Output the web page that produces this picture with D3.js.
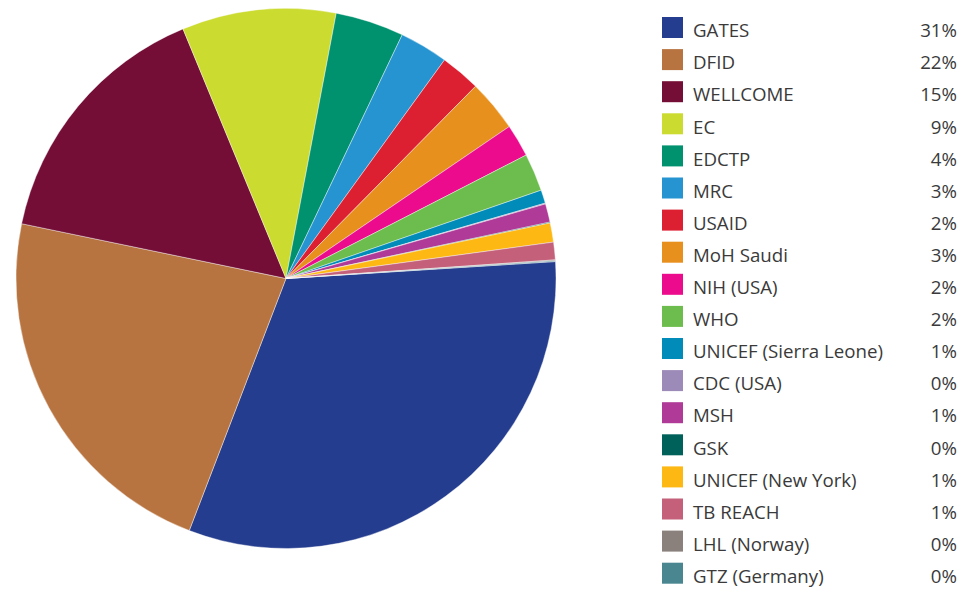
<!DOCTYPE html>
<html>
<head>
<meta charset="utf-8">
<script src="https://cdn.jsdelivr.net/npm/d3@7"></script>
<style>
  body { margin: 0; background: #fff; }
  svg text { font-family: "Open Sans", "Noto Sans", sans-serif; }
</style>
</head>
<body>
<div id="chart"></div>
<script>
var funders = ["GATES", "DFID", "WELLCOME", "EC", "EDCTP", "MRC", "USAID", "MoH Saudi",
  "NIH (USA)", "WHO", "UNICEF (Sierra Leone)", "CDC (USA)", "MSH", "GSK",
  "UNICEF (New York)", "TB REACH", "LHL (Norway)", "GTZ (Germany)"];
var values = [31.8, 22.4, 15.5, 9.2, 4.1, 2.9, 2.4, 3.1, 1.95, 2.25, 0.8, 0.05, 1.1, 0.05,
  1.15, 1.05, 0.05, 0.05];
var shareLabels = ["31%", "22%", "15%", "9%", "4%", "3%", "2%", "3%", "2%", "2%", "1%", "0%",
  "1%", "0%", "1%", "1%", "0%", "0%"];
var colors = ["#253d8e", "#b87440", "#740e36", "#cbdb2f", "#00926f", "#2594d1", "#dd1f32",
  "#e8901e", "#ec0b8c", "#6cbd4d", "#008bb8", "#9c8ab9", "#b03a97", "#00605a", "#fdb813",
  "#c4607a", "#8a817c", "#4a8690"];

var width = 963, height = 589;
var svg = d3.select("#chart").append("svg")
  .attr("width", width).attr("height", height);

var color = d3.scaleOrdinal().domain(funders).range(colors);

var rows = funders.map(function(f, i) {
  return {name: f, value: values[i], label: shareLabels[i]};
});

// pie starts just above 3 o'clock and runs clockwise
var start = 86.4 * Math.PI / 180;
var pie = d3.pie().sort(null).value(function(d) { return d.value; })
  .startAngle(start).endAngle(start + 2 * Math.PI);

var arc = d3.arc().innerRadius(0).outerRadius(270);

svg.append("g").attr("transform", "translate(286,278.5)")
  .selectAll("path").data(pie(rows))
  .enter().append("path")
  .attr("d", arc)
  .attr("fill", function(d) { return color(d.data.name); })
  .attr("stroke", "#fff")
  .attr("stroke-width", 0.4);

// legend
var y = d3.scaleBand().domain(funders).range([13, 13 + 32.1 * funders.length]);

var legend = svg.append("g").selectAll("g").data(rows)
  .enter().append("g")
  .attr("transform", function(d) { return "translate(0," + y(d.name) + ")"; });

legend.append("rect")
  .attr("x", 662).attr("y", 4)
  .attr("width", 21).attr("height", 21)
  .attr("fill", function(d) { return color(d.name); });

legend.append("text")
  .attr("x", 693).attr("y", 24.3)
  .attr("font-size", 18.7)
  .attr("fill", "#3a3a3a")
  .text(function(d) { return d.name; });

legend.append("text")
  .attr("x", 957).attr("y", 24.3)
  .attr("text-anchor", "end")
  .attr("font-size", 18.7)
  .attr("fill", "#3a3a3a")
  .text(function(d) { return d.label; });
</script>
</body>
</html>
